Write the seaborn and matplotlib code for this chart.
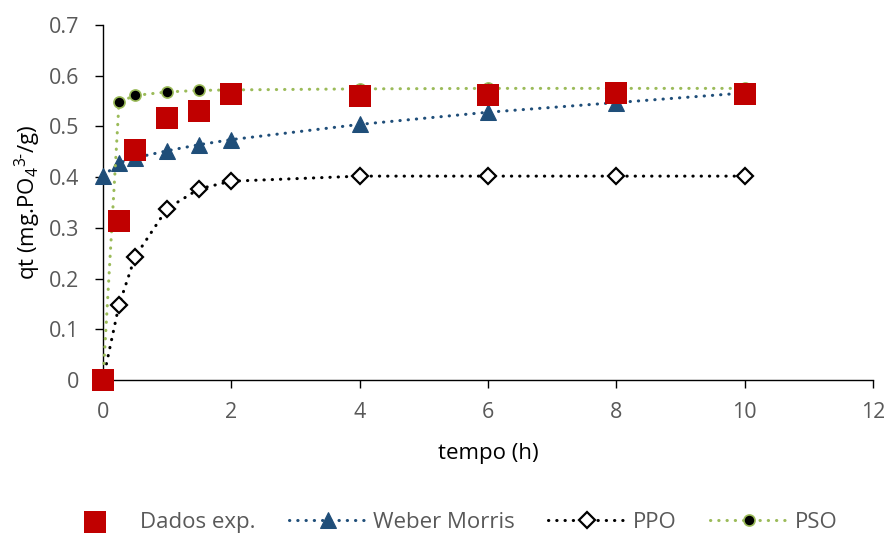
import matplotlib
matplotlib.use("Agg")
import matplotlib.pyplot as plt
import seaborn as sns
import pandas as pd

# ---- data ----
tempo = [0, 0.25, 0.5, 1, 1.5, 2, 4, 6, 8, 10]
dados_exp = [0.0, 0.314, 0.454, 0.517, 0.531, 0.564, 0.560, 0.562, 0.566, 0.564]
weber_morris = [0.402, 0.428, 0.438, 0.452, 0.464, 0.474, 0.504, 0.528, 0.547, 0.566]
ppo = [0.0, 0.148, 0.243, 0.338, 0.377, 0.392, 0.402, 0.402, 0.402, 0.402]
pso = [0.0, 0.548, 0.561, 0.568, 0.571, 0.572, 0.574, 0.575, 0.575, 0.575]

x_ticks = [0, 2, 4, 6, 8, 10, 12]
y_ticks = [0, 0.1, 0.2, 0.3, 0.4, 0.5, 0.6, 0.7]
y_tick_labels = ["0", "0.1", "0.2", "0.3", "0.4", "0.5", "0.6", "0.7"]

df = pd.DataFrame({"tempo": tempo, "exp": dados_exp, "wm": weber_morris,
                   "ppo": ppo, "pso": pso})

sns.set_theme(style="white")
plt.rcParams["font.family"] = ["Open Sans", "DejaVu Sans"]
plt.rcParams["mathtext.fontset"] = "custom"
plt.rcParams["mathtext.rm"] = "Open Sans"
plt.rcParams["mathtext.it"] = "Open Sans"

fig = plt.figure(figsize=(8.84, 5.35), dpi=100)
ax = fig.add_axes([0.1165, 0.2897, 0.8711, 0.6636])

gray = "#595959"
blue = "#1F4E79"
green = "#9BBB59"
red = "#C00000"
dot = (0, (0.1, 2.6))

sns.lineplot(data=df, x="tempo", y="wm", ax=ax, color=blue, lw=2.2,
             linestyle=dot, dash_capstyle="round", marker="^", markersize=11,
             markeredgecolor=blue, markerfacecolor=blue, label="Weber Morris",
             zorder=3, clip_on=False)
sns.lineplot(data=df, x="tempo", y="ppo", ax=ax, color="black", lw=2.2,
             linestyle=dot, dash_capstyle="round", marker="D", markersize=8,
             markeredgecolor="black", markerfacecolor="white",
             markeredgewidth=1.6, label="PPO", zorder=3, clip_on=False)
sns.lineplot(data=df, x="tempo", y="pso", ax=ax, color=green, lw=2.2,
             linestyle=dot, dash_capstyle="round", marker="o", markersize=8,
             markeredgecolor=green, markerfacecolor="black",
             markeredgewidth=1.2, label="PSO", zorder=3, clip_on=False)
sns.scatterplot(data=df, x="tempo", y="exp", ax=ax, marker="s", s=230,
                color=red, edgecolor=red, linewidth=0, label="Dados exp.",
                zorder=5, clip_on=False)

handles, labels = ax.get_legend_handles_labels()
if ax.get_legend() is not None:
    ax.get_legend().remove()

ax.set_xlim(0, 12)
ax.set_ylim(0, 0.7)
ax.set_xticks(x_ticks)
ax.set_xticklabels([str(v) for v in x_ticks])
ax.set_yticks(y_ticks)
ax.set_yticklabels(y_tick_labels)
ax.tick_params(axis="both", which="major", direction="out", length=6,
               width=1, color="black", labelsize=15.5, labelcolor=gray,
               bottom=True, left=True)
ax.tick_params(axis="x", pad=10)
ax.tick_params(axis="y", pad=11)
for s in ["top", "right"]:
    ax.spines[s].set_visible(False)
for s in ["left", "bottom"]:
    ax.spines[s].set_color("black")
    ax.spines[s].set_linewidth(1)

ax.set_xlabel("tempo (h)", fontsize=16, color="black", labelpad=14)
ax.set_ylabel(r"qt (mg.PO$_4$$^{3\text{-}}$/g)", fontsize=16, color="black",
              labelpad=4)

order = ["Dados exp.", "Weber Morris", "PPO", "PSO"]
hmap = dict(zip(labels, handles))
leg = fig.legend([hmap[k] for k in order], order, loc="center",
                 bbox_to_anchor=(0.505, 0.024), bbox_transform=fig.transFigure,
                 ncol=4, frameon=False, fontsize=16, handlelength=3.5,
                 columnspacing=1.5, handletextpad=0.3, numpoints=1,
                 borderpad=0)
for t in leg.get_texts():
    t.set_color(gray)

fig.savefig("out.png", dpi=100)
